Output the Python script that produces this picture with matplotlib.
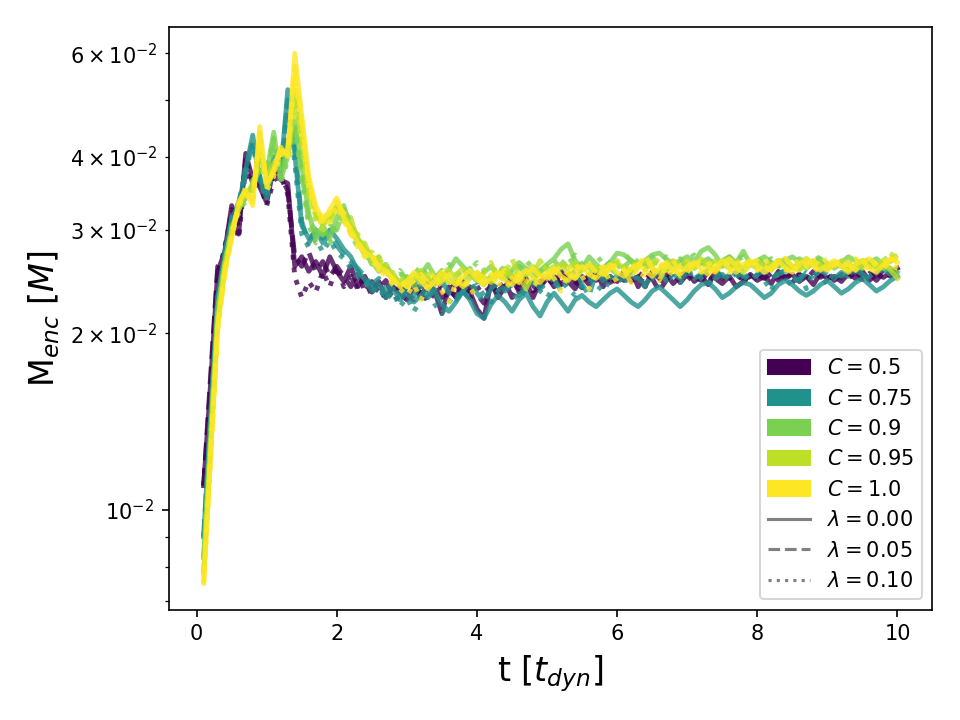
import matplotlib
matplotlib.use("Agg")
import matplotlib.pyplot as plt
from matplotlib.patches import Patch
from matplotlib.lines import Line2D
import numpy as np

# time grid [t_dyn]
t_dyn = [i / 10 for i in range(1, 101)]

C_values = [0.5, 0.75, 0.9, 0.95, 1.0]
lambda_values = [0.00, 0.05, 0.10]
lambda_styles = ['-', '--', ':']

# M_enc in units of 1e-3 M
P0 = [11.0, 16.5, 25.5, 27.5, 33.0, 29.5, 40.5, 36.5, 35.5, 33.4,
      38.4, 36.5, 36.0, 26.0, 27.0, 25.5, 26.5, 25.0, 27.0, 25.5,
      24.5, 26.0, 24.0, 25.0, 23.5, 24.5, 23.0, 24.0, 23.5, 22.8,
      24.0, 23.0, 24.5, 23.5, 21.6, 24.0, 23.0, 24.5, 23.5, 22.0,
      21.2, 24.5, 23.0, 24.0, 25.0, 23.5, 24.5, 23.0, 24.5, 25.0,
      24.0, 25.5, 24.5, 23.8, 25.0, 24.2, 25.5, 24.0, 25.0, 24.5,
      25.5, 24.5, 25.0, 24.0, 25.5, 24.8, 25.2, 24.3, 25.0, 25.5,
      24.5, 25.0, 24.2, 25.5, 24.8, 25.0, 24.0, 24.5, 25.2, 24.6,
      25.0, 24.3, 25.5, 24.8, 25.2, 24.5, 25.0, 24.2, 25.3, 24.8,
      25.0, 24.5, 25.3, 24.8, 25.5, 24.6, 25.2, 24.9, 25.4, 25.8]
P1 = [11.0, 17.0, 26.0, 27.0, 32.5, 30.5, 39.5, 36.0, 37.0, 34.5,
      37.5, 37.0, 35.0, 27.0, 26.0, 27.5, 25.5, 26.5, 25.0, 26.0,
      25.0, 24.0, 25.5, 23.5, 24.5, 23.8, 24.6, 23.2, 24.0, 23.5,
      24.5, 23.2, 23.8, 24.8, 23.0, 23.6, 24.4, 23.0, 24.0, 23.3,
      22.5, 24.0, 23.5, 24.5, 23.0, 24.2, 24.8, 23.6, 24.0, 24.8,
      25.0, 24.2, 25.0, 24.5, 23.9, 25.2, 24.6, 25.3, 24.4, 25.0,
      24.6, 25.6, 24.0, 25.3, 24.8, 23.6, 24.6, 25.4, 24.4, 25.2,
      25.0, 24.6, 25.4, 24.8, 24.3, 25.0, 25.4, 24.7, 24.4, 25.1,
      24.8, 25.4, 24.6, 25.0, 24.4, 25.2, 24.7, 25.5, 24.9, 25.3,
      24.6, 25.2, 24.8, 25.4, 24.9, 25.3, 24.6, 25.4, 25.0, 25.6]
P2 = [11.0, 16.0, 25.0, 28.0, 32.0, 29.0, 38.5, 35.0, 36.0, 33.0,
      36.5, 37.0, 34.5, 25.0, 23.0, 24.5, 23.5, 25.5, 24.0, 26.0,
      24.0, 25.0, 23.8, 24.6, 23.2, 24.0, 22.8, 23.6, 22.5, 23.4,
      22.8, 23.8, 22.6, 23.5, 24.2, 22.8, 23.6, 24.0, 23.0, 23.8,
      24.2, 23.4, 24.6, 23.6, 24.4, 23.8, 24.9, 24.1, 24.6, 24.0,
      24.8, 24.2, 25.2, 24.4, 25.0, 24.5, 25.3, 24.7, 25.0, 24.3,
      25.1, 24.6, 25.4, 24.8, 25.0, 24.4, 25.3, 24.8, 25.2, 24.6,
      25.3, 24.9, 25.0, 24.5, 25.4, 24.8, 25.2, 24.6, 25.0, 25.4,
      24.7, 25.3, 24.9, 25.5, 24.8, 25.2, 24.6, 25.4, 25.0, 24.8,
      25.3, 24.9, 25.5, 25.0, 24.7, 25.3, 25.0, 25.6, 25.2, 25.8]

T0 = [9.0, 14.5, 23.0, 27.0, 31.5, 33.0, 38.0, 43.5, 36.5, 34.0,
      40.0, 37.5, 52.0, 40.5, 30.5, 29.0, 29.8, 29.0, 30.0, 29.0,
      27.8, 27.0, 25.5, 24.7, 23.6, 24.2, 23.0, 23.8, 22.8, 23.4,
      22.6, 23.2, 24.0, 23.4, 22.4, 21.8, 22.6, 23.6, 22.8, 21.6,
      21.2, 22.4, 23.2, 22.6, 21.8, 22.8, 23.4, 22.2, 21.4, 22.6,
      23.4, 22.6, 21.8, 22.8, 23.2, 22.6, 22.2, 22.8, 23.4, 23.8,
      23.2, 22.6, 22.2, 22.8, 23.6, 24.0, 23.4, 22.8, 22.2, 22.8,
      23.6, 24.2, 24.4, 23.8, 23.0, 23.4, 24.0, 24.4, 24.2, 23.6,
      23.0, 23.4, 24.2, 24.6, 24.2, 23.6, 23.2, 23.6, 24.2, 24.6,
      24.0, 23.4, 23.8, 24.4, 24.8, 24.2, 23.6, 24.0, 24.6, 25.0]
T1 = [9.0, 14.5, 23.0, 27.5, 31.0, 33.5, 37.5, 42.5, 37.0, 34.5,
      39.0, 38.0, 50.0, 42.0, 31.0, 28.5, 30.0, 28.5, 29.5, 28.2,
      27.2, 26.5, 25.8, 25.0, 24.2, 24.8, 23.6, 24.4, 23.2, 24.0,
      23.2, 24.2, 23.0, 23.8, 24.6, 23.4, 22.8, 23.6, 24.4, 23.4,
      22.6, 23.8, 24.4, 23.6, 24.2, 23.2, 24.0, 24.8, 23.8, 24.4,
      24.8, 23.6, 24.6, 25.6, 24.2, 23.2, 25.4, 24.6, 25.0, 24.4,
      25.0, 25.6, 24.8, 24.2, 25.0, 25.4, 24.6, 25.2, 24.8, 25.4,
      24.8, 25.2, 25.6, 24.8, 25.2, 24.6, 25.4, 25.0, 24.6, 25.2,
      25.6, 24.8, 25.2, 25.6, 25.0, 24.6, 25.4, 25.0, 25.6, 25.2,
      24.8, 25.4, 25.0, 25.6, 25.2, 24.8, 25.4, 25.8, 25.2, 25.6]
T2 = [9.0, 14.0, 22.5, 27.0, 31.5, 32.5, 38.5, 42.0, 36.0, 34.0,
      38.5, 37.0, 49.0, 39.0, 29.5, 28.0, 29.0, 27.5, 28.8, 27.5,
      26.8, 25.8, 25.0, 24.5, 23.5, 24.0, 22.8, 23.5, 22.2, 23.0,
      21.8, 22.8, 23.6, 22.4, 21.6, 22.6, 23.4, 22.8, 23.6, 24.2,
      23.2, 22.6, 23.6, 24.2, 23.4, 22.8, 23.8, 24.4, 23.6, 23.0,
      24.0, 24.6, 23.8, 23.2, 24.2, 24.8, 24.2, 23.6, 24.6, 25.0,
      24.4, 25.2, 24.6, 24.0, 24.8, 25.4, 24.6, 25.0, 24.4, 25.2,
      25.4, 24.8, 24.2, 25.0, 25.6, 24.8, 25.2, 24.6, 25.4, 25.0,
      24.6, 23.6, 25.8, 25.0, 24.0, 25.4, 23.8, 25.6, 25.2, 24.2,
      25.4, 25.0, 25.6, 25.2, 25.8, 25.0, 25.4, 25.8, 25.2, 25.6]

G0 = [8.3, 13.5, 22.0, 26.5, 30.0, 32.5, 34.0, 36.0, 38.0, 37.5,
      44.0, 36.5, 40.0, 46.0, 38.5, 32.0, 29.0, 30.5, 29.0, 31.5,
      33.0, 30.0, 28.5, 27.2, 26.5, 25.5, 26.2, 25.0, 24.2, 25.0,
      24.0, 25.2, 26.2, 25.0, 24.4, 25.6, 26.8, 26.0, 25.2, 24.6,
      25.4, 26.0, 25.2, 24.8, 25.6, 26.4, 25.8, 25.0, 25.6, 26.2,
      26.8, 27.8, 28.4, 26.6, 25.8, 27.0, 26.2, 25.6, 26.4, 27.4,
      27.2, 26.6, 26.0, 26.6, 27.2, 27.4, 26.8, 26.2, 26.6, 27.0,
      26.4, 27.6, 28.0, 27.2, 26.0, 27.0, 26.4, 27.6, 26.2, 26.6,
      27.0, 26.4, 26.0, 26.6, 27.0, 26.4, 25.8, 26.4, 26.8, 26.2,
      25.8, 26.4, 27.0, 26.6, 26.0, 26.4, 26.8, 26.2, 25.8, 25.4]
G1 = [8.3, 13.5, 22.0, 26.0, 30.5, 32.0, 34.5, 35.5, 38.5, 37.0,
      42.5, 37.5, 41.0, 45.5, 37.5, 31.0, 30.0, 29.5, 30.5, 30.0,
      32.5, 31.0, 29.0, 27.8, 26.8, 26.0, 25.4, 24.8, 25.6, 24.6,
      25.4, 24.6, 23.8, 24.8, 25.6, 24.8, 24.2, 25.2, 25.8, 24.6,
      24.2, 25.0, 25.6, 24.8, 25.4, 26.0, 25.2, 24.6, 25.4, 26.0,
      25.4, 26.2, 27.0, 26.0, 25.4, 26.2, 25.6, 26.4, 25.8, 25.2,
      26.0, 26.6, 25.8, 26.4, 27.0, 26.2, 25.6, 26.2, 26.8, 26.0,
      25.6, 26.4, 26.8, 26.0, 26.6, 27.0, 26.2, 25.8, 26.4, 26.8,
      26.2, 25.8, 26.6, 26.0, 25.6, 26.4, 26.8, 26.0, 26.4, 25.8,
      26.4, 26.0, 25.6, 26.2, 26.6, 26.0, 25.6, 26.2, 26.6, 26.0]
G2 = [8.3, 13.2, 21.5, 26.5, 29.5, 32.5, 33.5, 36.5, 37.5, 38.0,
      43.0, 36.0, 39.5, 44.5, 36.5, 30.5, 28.5, 29.5, 28.5, 30.5,
      32.0, 29.5, 28.0, 27.5, 26.2, 27.0, 25.8, 24.8, 25.4, 24.4,
      25.2, 26.0, 25.0, 24.4, 25.4, 26.2, 25.6, 24.8, 25.6, 26.4,
      25.6, 24.8, 25.4, 26.0, 25.2, 25.8, 26.6, 25.8, 25.2, 26.0,
      26.6, 25.8, 26.4, 27.2, 26.2, 25.6, 26.4, 27.0, 26.2, 25.8,
      26.6, 27.2, 26.4, 25.8, 26.6, 26.2, 27.0, 26.4, 25.8, 26.6,
      27.2, 26.4, 26.0, 26.8, 26.2, 25.8, 26.6, 27.0, 26.2, 26.8,
      26.2, 26.8, 26.2, 25.6, 26.4, 26.8, 26.0, 26.6, 27.0, 26.2,
      25.8, 26.6, 26.2, 25.6, 26.4, 26.8, 26.0, 26.6, 27.2, 26.4]

L0 = [7.8, 12.8, 21.0, 26.0, 29.5, 33.0, 34.5, 35.5, 41.0, 36.5,
      39.0, 40.5, 41.0, 52.0, 44.0, 36.0, 32.0, 30.5, 31.5, 33.0,
      32.0, 30.5, 29.0, 28.0, 27.0, 26.5, 25.8, 25.0, 24.5, 24.0,
      24.6, 25.4, 24.8, 24.2, 25.0, 25.6, 24.8, 24.2, 24.8, 25.4,
      24.8, 24.4, 25.2, 25.8, 25.0, 24.6, 25.4, 26.0, 25.2, 24.8,
      25.6, 26.2, 25.4, 24.8, 25.6, 26.2, 25.6, 25.2, 25.8, 26.4,
      25.8, 25.2, 26.0, 26.6, 25.8, 25.4, 26.2, 26.6, 26.0, 25.6,
      26.2, 26.8, 26.0, 25.6, 26.2, 26.6, 25.8, 25.4, 26.2, 26.6,
      26.0, 25.6, 26.4, 26.8, 26.0, 25.6, 26.2, 26.6, 26.0, 25.8,
      26.4, 26.0, 25.6, 26.2, 26.6, 26.0, 25.8, 26.4, 25.6, 24.8]
L1 = [7.8, 12.8, 21.0, 25.5, 30.0, 32.5, 35.0, 35.0, 40.0, 37.0,
      38.0, 41.0, 40.0, 50.0, 43.0, 35.0, 31.5, 31.0, 30.5, 33.5,
      31.0, 31.5, 28.5, 28.5, 26.5, 27.0, 25.5, 25.4, 24.2, 24.6,
      25.2, 24.4, 25.0, 25.8, 25.0, 24.4, 25.2, 25.8, 25.0, 24.6,
      25.4, 26.4, 24.4, 25.2, 26.8, 25.0, 23.8, 25.2, 26.6, 25.6,
      26.0, 25.4, 25.8, 26.4, 25.6, 25.2, 26.0, 25.4, 26.0, 26.6,
      26.0, 25.6, 26.4, 25.8, 26.2, 26.8, 26.0, 25.6, 26.2, 26.6,
      25.8, 26.4, 26.0, 26.6, 26.2, 25.8, 26.4, 26.8, 26.2, 25.8,
      26.4, 26.0, 26.6, 26.2, 25.8, 26.4, 26.8, 26.2, 25.8, 26.4,
      26.0, 26.6, 26.2, 25.8, 26.4, 26.8, 26.2, 25.8, 26.6, 27.2]
L2 = [7.8, 12.6, 20.8, 25.8, 29.8, 33.2, 34.0, 36.0, 39.5, 36.0,
      38.5, 40.0, 40.5, 49.0, 42.0, 34.0, 31.0, 30.0, 32.0, 32.5,
      32.5, 30.0, 29.5, 27.5, 27.5, 26.0, 26.2, 24.8, 25.0, 24.2,
      24.8, 25.6, 24.8, 24.4, 25.2, 25.8, 25.2, 24.6, 25.4, 25.0,
      24.6, 25.4, 25.8, 25.2, 24.8, 25.6, 25.2, 24.8, 25.4, 26.0,
      25.4, 25.8, 26.4, 25.8, 25.4, 26.2, 25.6, 25.2, 26.0, 26.4,
      25.8, 26.4, 26.0, 25.6, 26.4, 26.0, 25.6, 26.2, 26.8, 26.2,
      25.8, 26.4, 26.0, 25.6, 26.4, 26.8, 26.2, 25.8, 26.4, 26.0,
      25.6, 26.2, 26.6, 26.0, 26.4, 25.8, 26.4, 26.8, 26.2, 25.8,
      26.4, 26.0, 26.6, 26.2, 25.8, 26.4, 26.0, 26.6, 27.0, 28.0]

Y0 = [7.5, 12.4, 20.5, 25.5, 29.0, 33.5, 35.0, 33.0, 45.0, 35.5,
      38.0, 41.5, 40.0, 60.0, 47.0, 37.0, 33.0, 31.0, 32.5, 34.0,
      31.5, 30.0, 28.5, 27.5, 27.0, 26.0, 25.5, 24.8, 24.0, 24.5,
      25.4, 24.6, 23.8, 24.6, 25.4, 24.8, 24.2, 25.0, 25.6, 24.8,
      24.2, 24.8, 25.4, 24.6, 24.2, 25.0, 25.6, 24.8, 24.4, 25.2,
      25.8, 25.0, 24.6, 25.4, 26.0, 25.2, 24.8, 25.6, 26.2, 25.4,
      25.0, 25.8, 26.2, 25.6, 25.0, 25.8, 26.4, 25.6, 25.2, 26.0,
      26.4, 25.8, 25.2, 26.0, 26.6, 25.8, 25.4, 26.2, 26.6, 26.0,
      25.4, 26.0, 26.6, 25.8, 25.4, 26.2, 26.8, 26.0, 25.6, 26.2,
      26.6, 26.0, 25.4, 26.2, 26.6, 25.8, 25.4, 26.2, 26.8, 26.4]
Y1 = [7.5, 12.4, 20.5, 25.0, 29.5, 33.0, 35.5, 33.5, 43.5, 36.0,
      37.5, 41.0, 40.5, 57.0, 46.0, 36.0, 32.5, 31.5, 32.0, 33.5,
      32.0, 29.5, 28.8, 27.0, 27.4, 25.6, 25.8, 24.4, 24.8, 24.0,
      24.6, 25.2, 24.4, 23.8, 24.6, 25.2, 24.6, 24.0, 24.8, 25.4,
      24.8, 24.2, 25.0, 25.6, 24.8, 24.4, 25.2, 25.8, 25.0, 24.6,
      25.4, 26.0, 25.2, 24.8, 25.6, 26.2, 25.4, 25.0, 25.8, 26.2,
      25.6, 24.4, 26.0, 27.2, 25.8, 24.6, 26.0, 26.6, 25.0, 25.4,
      26.2, 26.6, 25.8, 25.4, 26.2, 26.8, 26.0, 25.6, 26.2, 26.6,
      26.0, 25.6, 26.4, 26.8, 26.0, 25.6, 26.2, 26.6, 26.0, 25.6,
      26.2, 26.8, 26.2, 25.6, 26.4, 26.8, 26.2, 25.8, 26.6, 27.0]
Y2 = [7.5, 12.2, 20.0, 25.5, 29.0, 33.0, 34.5, 33.5, 44.0, 35.0,
      37.0, 40.5, 39.5, 55.0, 45.0, 35.5, 32.0, 30.5, 31.0, 33.0,
      31.0, 29.5, 28.0, 27.0, 26.5, 25.8, 25.0, 24.2, 23.8, 23.2,
      24.2, 22.8, 24.2, 25.4, 23.6, 22.6, 24.4, 25.0, 23.4, 23.8,
      24.6, 25.2, 24.4, 23.8, 24.6, 25.2, 24.6, 24.0, 24.8, 25.4,
      24.8, 23.6, 25.2, 26.4, 25.0, 23.8, 25.4, 26.0, 24.4, 24.8,
      25.6, 26.2, 25.4, 25.0, 25.8, 26.4, 25.6, 25.2, 26.0, 26.4,
      25.8, 25.4, 26.2, 26.6, 25.8, 25.4, 26.2, 26.8, 26.0, 25.6,
      26.4, 26.8, 26.0, 25.6, 26.2, 26.6, 26.0, 25.4, 26.2, 26.8,
      26.2, 25.8, 26.4, 26.8, 26.2, 25.6, 26.4, 26.8, 26.2, 25.8]

series = {
    0.5: [P0, P1, P2],
    0.75: [T0, T1, T2],
    0.9: [G0, G1, G2],
    0.95: [L0, L1, L2],
    1.0: [Y0, Y1, Y2],
}

fig = plt.figure(figsize=(6.4, 4.8), dpi=150)
ax = fig.add_axes([0.176, 0.153, 0.795, 0.81])
cmap = plt.get_cmap('viridis')

for C in C_values:
    col = cmap((C - 0.5) / 0.5)
    for ls, vals in zip(lambda_styles, series[C]):
        ax.plot(t_dyn, np.array(vals) * 1e-3, color=col, ls=ls, lw=2.3, alpha=0.8)

ax.set_yscale('log')
ax.set_xlabel(r't [$t_{dyn}$]', fontsize=16)
ax.set_ylabel(r'M$_{enc}$ [$M$]', fontsize=16)

handles = [Patch(color=cmap((C - 0.5) / 0.5), label=rf'$C = {C}$') for C in C_values]
handles += [Line2D([], [], color='gray', ls=ls, lw=1.5, label=rf'$\lambda = {lam:.2f}$')
            for ls, lam in zip(lambda_styles, lambda_values)]
ax.legend(handles=handles, loc='lower right')

fig.savefig('out.png', dpi=150)
